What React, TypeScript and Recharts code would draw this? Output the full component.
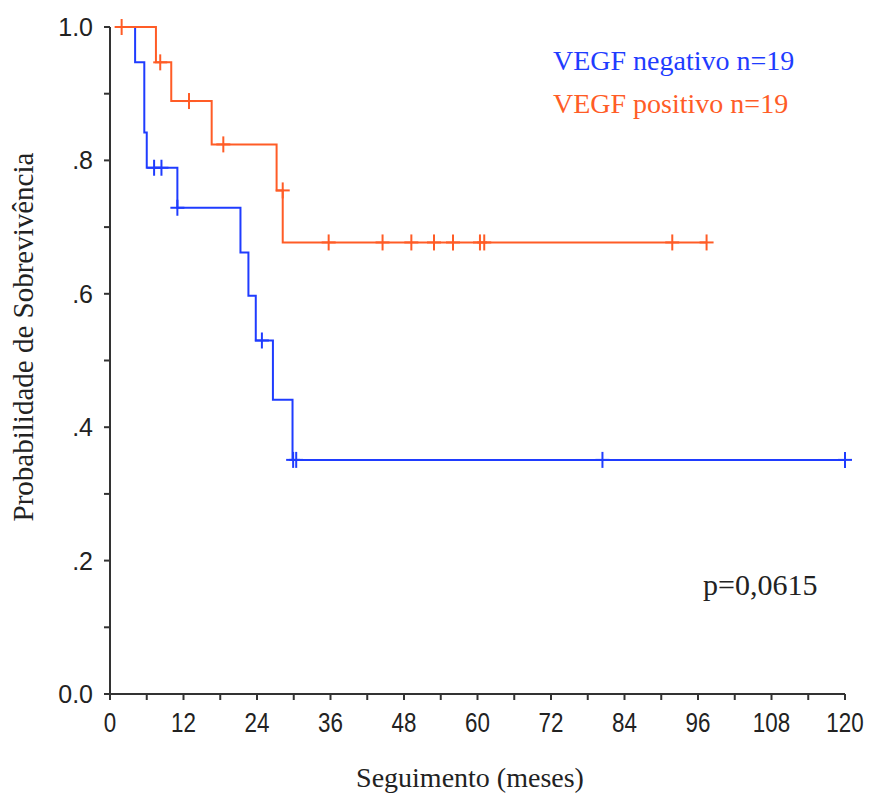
import { LineChart, Line, XAxis, YAxis } from "recharts";

const BLUE = "#1f3cff";
const ORANGE = "#ff5c26";

// VEGF negativo: tempos (meses), sobrevida, censura (1 = censurado)
const negTimes = [4.1, 4.1, 5.6, 6.0, 7.2, 8.4, 11.0, 21.3, 22.6, 23.8, 24.8, 26.6, 29.8, 29.9, 30.4, 80.4, 120];
const negSurv = [1, 0.947, 0.842, 0.789, 0.789, 0.789, 0.729, 0.662, 0.597, 0.53, 0.53, 0.441, 0.351, 0.351, 0.351, 0.351, 0.351];
const negCens = [0, 0, 0, 0, 1, 1, 1, 0, 0, 0, 1, 0, 0, 1, 1, 1, 1];

// VEGF positivo
const posTimes = [1.9, 7.5, 8.2, 10.0, 12.9, 16.6, 18.5, 27.2, 28.2, 28.2, 35.7, 44.5, 49.2, 52.9, 56.0, 60.4, 61.1, 91.8, 97.4];
const posSurv = [1, 0.947, 0.947, 0.889, 0.889, 0.824, 0.824, 0.755, 0.755, 0.677, 0.677, 0.677, 0.677, 0.677, 0.677, 0.677, 0.677, 0.677, 0.677];
const posCens = [1, 0, 1, 0, 1, 0, 1, 0, 1, 0, 1, 1, 1, 1, 1, 1, 1, 1, 1];

const xTicks = [0, 6, 12, 18, 24, 30, 36, 42, 48, 54, 60, 66, 72, 78, 84, 90, 96, 102, 108, 114, 120];
const xLabelTicks = [0, 12, 24, 36, 48, 60, 72, 84, 96, 108, 120];
const yTicks = [0, 0.1, 0.2, 0.3, 0.4, 0.5, 0.6, 0.7, 0.8, 0.9, 1];
const yLabelTicks = [0, 0.2, 0.4, 0.6, 0.8, 1];
const yLabels = ["0.0", ".2", ".4", ".6", ".8", "1.0"];

const legendNames = ["VEGF negativo n=19", "VEGF positivo n=19"];
const pValue = "p=0,0615";

const toRows = (t: number[], s: number[], c: number[]) => t.map((v, i) => ({ t: v, s: s[i], c: c[i] }));
const negData = toRows(negTimes, negSurv, negCens);
const posData = toRows(posTimes, posSurv, posCens);

const censorDot = (color: string) => (props: any) => {
  const { cx, cy, payload, index } = props;
  if (!payload || !payload.c) return <g key={`d${index}`} />;
  return (
    <g key={`d${index}`} stroke={color} strokeWidth={2}>
      <line x1={cx - 7} y1={cy} x2={cx + 7} y2={cy} />
      <line x1={cx} y1={cy - 8} x2={cx} y2={cy + 8} />
    </g>
  );
};

const XTick = (props: any) => {
  const { x, y, payload } = props;
  if (!xLabelTicks.includes(payload.value)) return <g />;
  return (
    <text
      transform={`translate(${x},${y + 30}) scale(0.8,1)`}
      textAnchor="middle"
      fontSize={28}
      fontFamily="Liberation Sans, Arial, sans-serif"
      fill="#222"
    >
      {payload.value}
    </text>
  );
};

const YTick = (props: any) => {
  const { x, y, payload } = props;
  const i = yLabelTicks.findIndex((v) => Math.abs(v - payload.value) < 1e-6);
  if (i < 0) return <g />;
  return (
    <text x={x - 9} y={y + 9} textAnchor="end" fontSize={25} fontFamily="Liberation Sans, Arial, sans-serif" fill="#222">
      {yLabels[i]}
    </text>
  );
};

const serif = "Liberation Serif, 'Times New Roman', serif";

export default function App() {
  return (
    <div style={{ position: "absolute", left: 0, top: 0, width: 871, height: 797, background: "#fff" }}>
      <LineChart width={871} height={797} margin={{ top: 27, right: 26, bottom: 0, left: 0 }}>
        <XAxis
          type="number"
          dataKey="t"
          domain={[0, 120]}
          ticks={xTicks}
          interval={0}
          height={103}
          tickSize={6}
          stroke="#333"
          axisLine={{ stroke: "#333", strokeWidth: 2 }}
          tickLine={{ stroke: "#333", strokeWidth: 2 }}
          tick={<XTick />}
          label={{
            content: () => (
              <text x={470} y={787} textAnchor="middle" fontSize={28} fontFamily={serif} fill="#222">
                Seguimento (meses)
              </text>
            ),
          }}
        />
        <YAxis
          type="number"
          dataKey="s"
          domain={[0, 1]}
          ticks={yTicks}
          interval={0}
          width={110}
          tickSize={6}
          stroke="#333"
          axisLine={{ stroke: "#333", strokeWidth: 2 }}
          tickLine={{ stroke: "#333", strokeWidth: 2 }}
          tick={<YTick />}
          label={{
            content: () => (
              <text transform="rotate(-90 33 337)" x={33} y={337} textAnchor="middle" fontSize={29} fontFamily={serif} fill="#222">
                Probabilidade de Sobrevivência
              </text>
            ),
          }}
        />
        <Line
          data={negData}
          dataKey="s"
          type="stepAfter"
          stroke={BLUE}
          strokeWidth={2}
          dot={censorDot(BLUE)}
          activeDot={false}
          isAnimationActive={false}
        />
        <Line
          data={posData}
          dataKey="s"
          type="stepAfter"
          stroke={ORANGE}
          strokeWidth={2}
          dot={censorDot(ORANGE)}
          activeDot={false}
          isAnimationActive={false}
        />
      </LineChart>
      <div
        style={{
          position: "absolute",
          left: 553,
          top: 39,
          fontFamily: serif,
          fontSize: 28,
          lineHeight: "43px",
          whiteSpace: "nowrap",
        }}
      >
        <div style={{ color: BLUE }}>{legendNames[0]}</div>
        <div style={{ color: ORANGE }}>{legendNames[1]}</div>
      </div>
      <div
        style={{
          position: "absolute",
          left: 703,
          top: 565,
          fontFamily: serif,
          fontSize: 30,
          lineHeight: "40px",
          color: "#222",
          whiteSpace: "nowrap",
        }}
      >
        {pValue}
      </div>
    </div>
  );
}
